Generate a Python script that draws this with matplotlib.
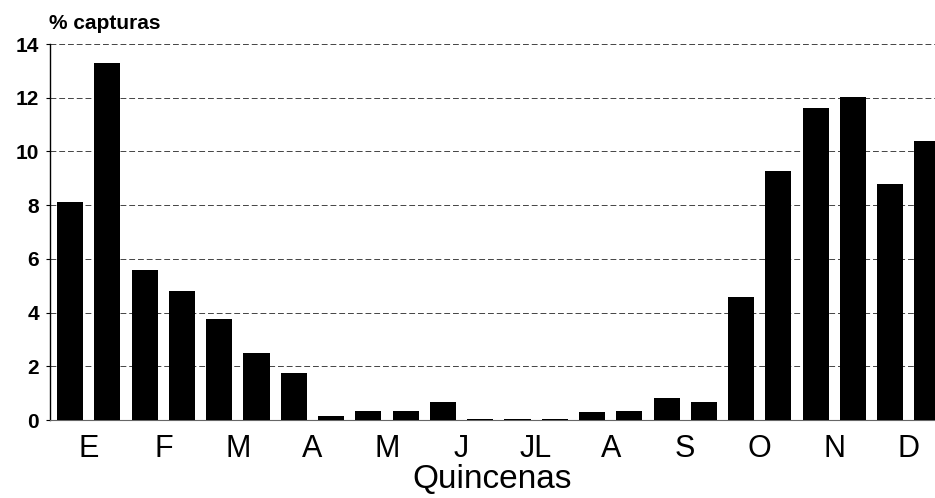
import numpy as np
import matplotlib.pyplot as plt

plt.rcParams['font.family'] = ['Liberation Sans', 'DejaVu Sans']

# capturas por quincena (%)
quincenas = np.arange(24)
capturas = [8.1, 13.3, 5.6, 4.8, 3.75, 2.5, 1.75, 0.15, 0.35, 0.33, 0.68, 0.03,
            0.03, 0.03, 0.3, 0.32, 0.83, 0.66, 4.57, 9.28, 11.62, 12.04, 8.79, 10.38]
meses = ['E', 'F', 'M', 'A', 'M', 'J', 'JL', 'A', 'S', 'O', 'N', 'D']

fig = plt.figure(figsize=(9.35, 4.98), dpi=100)
ax = fig.add_axes([0.0535, 0.1566, 0.9465, 0.755])

ax.bar(quincenas, capturas, width=0.7, color='black', zorder=3)

# dashed grid
ax.set_yticks(range(0, 15, 2))
ax.yaxis.grid(True, linestyle=(0, (6, 3)), color='#444444', linewidth=0.7, zorder=0)
ax.set_ylim(0, 14)
ax.set_xlim(-0.54, 23.2)

# month labels centered between each pair of fortnights
ax.set_xticks(np.arange(12) * 2 + 0.5)
ax.set_xticklabels(meses, fontsize=22)
ax.tick_params(axis='x', length=0, pad=10)
ax.tick_params(axis='y', length=3, labelsize=15, pad=5)
for lbl in ax.get_yticklabels():
    lbl.set_fontweight('bold')

ax.spines['top'].set_visible(False)
ax.spines['right'].set_visible(False)
ax.spines['bottom'].set_color('#666666')
ax.spines['left'].set_linewidth(1.0)

ax.set_xlabel('Quincenas', fontsize=24, labelpad=0)
fig.text(0.052, 0.953, '% capturas', fontsize=15, fontweight='bold', va='center', ha='left')

fig.savefig('out.png', dpi=100)
